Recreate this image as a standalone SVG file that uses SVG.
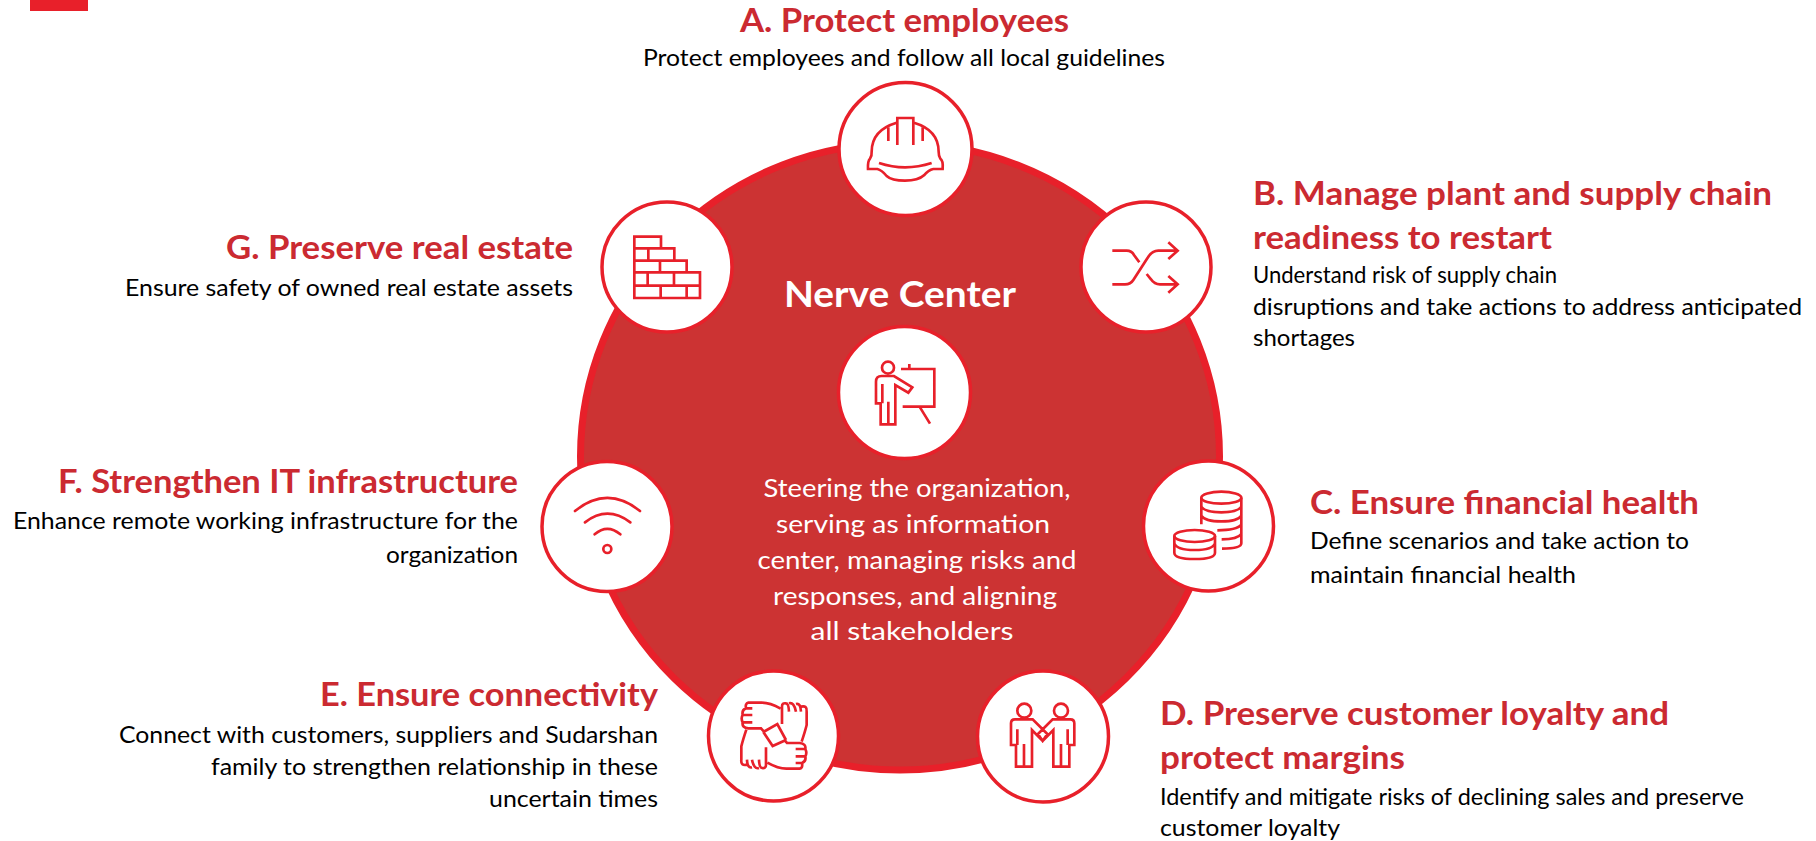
<svg xmlns="http://www.w3.org/2000/svg" width="1816" height="841" viewBox="0 0 1816 841">
<style>
text{font-family:"Lato","Open Sans","Liberation Sans",sans-serif}
.h{font-size:33px;font-weight:700;fill:#cb2a31}
.b{font-size:23px;fill:#000}
.c{font-size:25px;fill:#fff;text-anchor:middle}
.n{font-size:36px;font-weight:700;fill:#fff}
.o{fill:#fff;stroke:#e8202a;stroke-width:3.5}
.i{fill:none;stroke:#e8202a;stroke-width:8;stroke-linejoin:miter}
.l{stroke-linecap:round}
</style>
<rect x="30" y="0" width="58" height="11" fill="#e8202a"/>
<ellipse cx="900" cy="456.5" rx="319.5" ry="313.5" fill="#cc3333" stroke="#e8202a" stroke-width="7"/>

<g id="node-a">
<circle class="o" cx="905.5" cy="149" r="66.5"/>
<g class="i" transform="translate(780,70) scale(.3333)">
<path d="M350,158Q275,180 275,245Q276,258 270,266Q263,272 264,297H292Q305,300 320,318Q335,332 375,332Q415,332 432,316Q445,300 460,297H488Q490,272 481,266Q476,258 476,245Q476,180 402,158"/>
<path d="M352,225V144H400V225M325,172V213M428,172V213M297,279Q375,305 455,279"/>
</g>
<text class="h" x="740" y="32" textLength="329" lengthAdjust="spacingAndGlyphs">A. Protect employees</text>
<text class="b" x="643" y="66" textLength="522" lengthAdjust="spacingAndGlyphs">Protect employees and follow all local guidelines</text>
</g>

<g id="node-b">
<circle class="o" cx="1146" cy="267" r="65"/>
<g class="i" transform="translate(1060,190) scale(.3333)">
<path d="M157,182H200Q215,182 222,195L238,217M157,283H195Q212,283 220,270L262,205Q275,182 295,182H352M325,157L353,182L325,207M260,252L273,268Q283,283 300,283H352M325,258L353,283L325,308"/>
</g>
<text class="h" x="1253" y="205" textLength="519" lengthAdjust="spacingAndGlyphs">B. Manage plant and supply chain</text>
<text class="h" x="1253" y="249" textLength="299" lengthAdjust="spacingAndGlyphs">readiness to restart</text>
<text class="b" x="1253" y="283" textLength="304" lengthAdjust="spacingAndGlyphs">Understand risk of supply chain</text>
<text class="b" x="1253" y="315" textLength="549" lengthAdjust="spacingAndGlyphs">disruptions and take actions to address anticipated</text>
<text class="b" x="1253" y="346" textLength="102" lengthAdjust="spacingAndGlyphs">shortages</text>
</g>

<g id="node-c">
<circle class="o" cx="1208.5" cy="526" r="65"/>
<g class="i" transform="translate(1130,450) scale(.3333)">
<ellipse cx="274" cy="143" rx="60" ry="18"/>
<path d="M214,143V223M334,143V280Q334,296 276,296M214,170Q225,187 274,187Q323,187 334,170M214,197Q225,214 274,214Q323,214 334,197M262,241Q320,241 334,224M275,268Q323,268 334,252"/>
<ellipse cx="194" cy="258" rx="61" ry="18"/>
<path d="M133,258V308Q133,327 194,327Q255,327 255,308V258M133,280Q140,300 194,300Q248,300 255,280"/>
</g>
<text class="h" x="1310" y="514" textLength="389" lengthAdjust="spacingAndGlyphs">C. Ensure financial health</text>
<text class="b" x="1310" y="549" textLength="379" lengthAdjust="spacingAndGlyphs">Define scenarios and take action to</text>
<text class="b" x="1310" y="583" textLength="266" lengthAdjust="spacingAndGlyphs">maintain financial health</text>
</g>

<g id="node-d">
<circle class="o" cx="1043" cy="736.5" r="65.5"/>
<g class="i" transform="translate(960,660) scale(.3333)">
<circle cx="193" cy="152" r="21"/><circle cx="303" cy="152" r="21"/>
<path d="M168,320V255H153V190Q153,178 165,178H218L262,222L248,243L216,210V320ZM328,320V255H343V190Q343,178 331,178H278L234,222L248,243L280,210V320ZM172,208V255M192,252V320M323,208V255M303,252V320"/>
</g>
<text class="h" x="1160" y="725" textLength="509" lengthAdjust="spacingAndGlyphs">D. Preserve customer loyalty and</text>
<text class="h" x="1160" y="769" textLength="245" lengthAdjust="spacingAndGlyphs">protect margins</text>
<text class="b" x="1160" y="805" textLength="584" lengthAdjust="spacingAndGlyphs">Identify and mitigate risks of declining sales and preserve</text>
<text class="b" x="1160" y="836" textLength="180" lengthAdjust="spacingAndGlyphs">customer loyalty</text>
</g>

<g id="node-e">
<circle class="o" cx="773.5" cy="736" r="65"/>
<g class="i" transform="translate(690,660) scale(.3333)">
<path d="M272,146Q240,128 215,128H175Q165,130 168,145H187M168,145Q155,150 158,165H187M158,165Q152,175 158,187H187M158,187Q155,203 175,205H213L222,215"/>
<path d="M276,192V140Q276,128 288,130Q296,130 297,155M297,130Q312,125 318,155M318,132Q332,128 333,155M333,140Q352,135 350,155V195Q345,215 335,245"/>
<g transform="rotate(180 252 227)">
<path d="M272,146Q240,128 215,128H175Q165,130 168,145H187M168,145Q155,150 158,165H187M158,165Q152,175 158,187H187M158,187Q155,203 175,205H213L222,215"/>
<path d="M276,192V140Q276,128 288,130Q296,130 297,155M297,130Q312,125 318,155M318,132Q332,128 333,155M333,140Q352,135 350,155V195Q345,215 335,245"/>
</g>
<path d="M220,216L262,192L288,240M220,216L248,258L288,240"/>
</g>
<text class="h" x="320" y="706" textLength="338" lengthAdjust="spacingAndGlyphs">E. Ensure connectivity</text>
<text class="b" x="119" y="743" textLength="539" lengthAdjust="spacingAndGlyphs">Connect with customers, suppliers and Sudarshan</text>
<text class="b" x="211" y="775" textLength="447" lengthAdjust="spacingAndGlyphs">family to strengthen relationship in these</text>
<text class="b" x="489" y="807" textLength="169" lengthAdjust="spacingAndGlyphs">uncertain times</text>
</g>

<g id="node-f">
<circle class="o" cx="607" cy="526.5" r="65"/>
<g class="i l" transform="translate(530,450) scale(.3333)">
<path d="M135,183Q232,105 330,183M165,217Q232,165 301,217M194,253Q232,220 271,253"/>
<circle cx="232" cy="297" r="12"/>
</g>
<text class="h" x="58" y="493" textLength="460" lengthAdjust="spacingAndGlyphs">F. Strengthen IT infrastructure</text>
<text class="b" x="13" y="529" textLength="505" lengthAdjust="spacingAndGlyphs">Enhance remote working infrastructure for the</text>
<text class="b" x="386" y="563" textLength="132" lengthAdjust="spacingAndGlyphs">organization</text>
</g>

<g id="node-g">
<circle class="o" cx="667" cy="267" r="65"/>
<g class="i" transform="translate(580,190) scale(.3333)">
<path d="M163,140H243V175H283V212H320V247H360V324H163ZM163,175H243M163,212H283M163,247H320M163,287H360M205,175V212M240,212V247M203,247V287M282,247V287M242,287V324M320,287V324"/>
</g>
<text class="h" x="226" y="259" textLength="347" lengthAdjust="spacingAndGlyphs">G. Preserve real estate</text>
<text class="b" x="125" y="296" textLength="448" lengthAdjust="spacingAndGlyphs">Ensure safety of owned real estate assets</text>
</g>

<g id="node-center">
<text class="n" x="784" y="307" textLength="232" lengthAdjust="spacingAndGlyphs">Nerve Center</text>
<circle class="o" cx="904.5" cy="392.5" r="66"/>
<g class="i" transform="translate(820,310) scale(.3333)">
<circle cx="204" cy="173" r="18"/>
<path d="M182,343V280H168V215Q168,198 185,198H222L277,232L265,248L226,225V343ZM187,222V280M205,275V343M243,177H343V290H248M268,162V177M300,292L330,341"/>
</g>
<text class="c" x="917" y="497" textLength="307" lengthAdjust="spacingAndGlyphs">Steering the organization,</text>
<text class="c" x="913" y="533" textLength="274" lengthAdjust="spacingAndGlyphs">serving as information</text>
<text class="c" x="917" y="569" textLength="319" lengthAdjust="spacingAndGlyphs">center, managing risks and</text>
<text class="c" x="915" y="605" textLength="284" lengthAdjust="spacingAndGlyphs">responses, and aligning</text>
<text class="c" x="912" y="640" textLength="203" lengthAdjust="spacingAndGlyphs">all stakeholders</text>
</g>
</svg>
